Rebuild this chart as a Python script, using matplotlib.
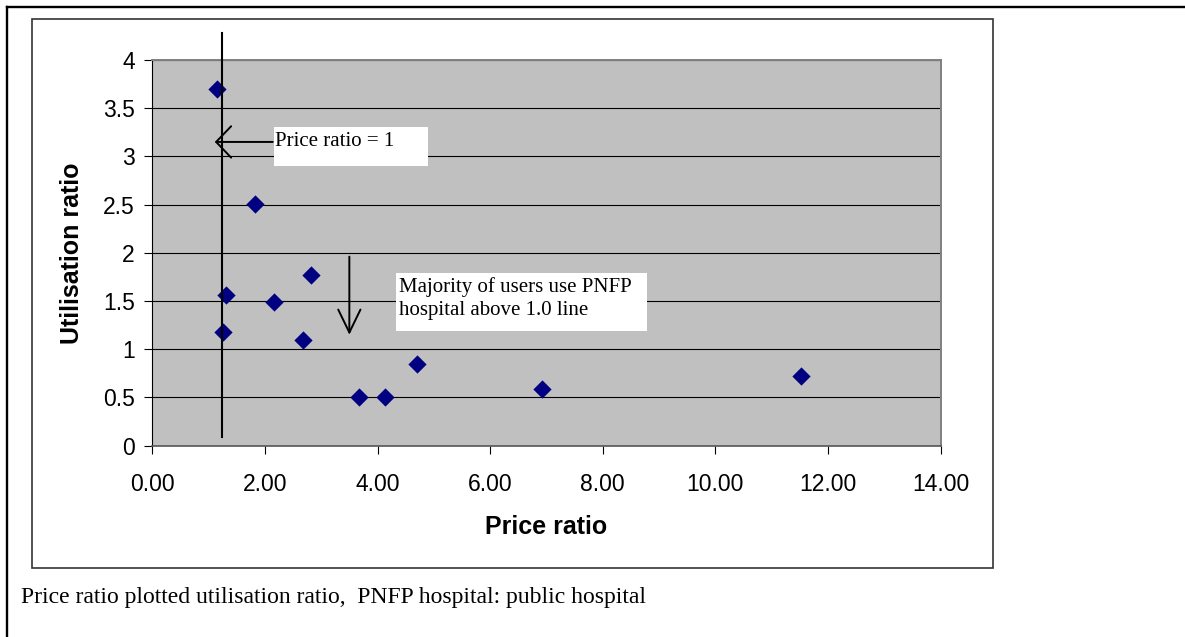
import matplotlib
matplotlib.use("Agg")
import matplotlib.pyplot as plt
from matplotlib.patches import Rectangle, FancyArrowPatch
from matplotlib.lines import Line2D

# data
price_ratio = [1.15, 1.82, 1.31, 1.26, 2.17, 2.68, 2.81, 3.67, 4.14, 4.70, 6.93, 11.53]
util_ratio = [3.70, 2.51, 1.56, 1.175, 1.49, 1.095, 1.77, 0.50, 0.50, 0.85, 0.59, 0.72]

x_ticks = [0, 2, 4, 6, 8, 10, 12, 14]
y_ticks = [0, 0.5, 1, 1.5, 2, 2.5, 3, 3.5, 4]

ref_x = 1.23            # hand-drawn "price ratio = 1" line
ref_y = (0.09, 4.28)
arrow1 = ((2.14, 3.15), (1.11, 3.15))
arrow2 = ((3.50, 1.96), (3.50, 1.15))

W, H = 1185, 637
serif = "Liberation Serif"
sans = "Liberation Sans"


def fx(x):
    return x / W


def fy(y):
    return 1 - y / H


fig = plt.figure(figsize=(W / 100, H / 100), dpi=100)

# outer table-cell border (top and left only)
fig.add_artist(Line2D([fx(7), 1], [fy(7), fy(7)], color="black", lw=1.7, transform=fig.transFigure))
fig.add_artist(Line2D([fx(7), fx(7)], [fy(7), 0], color="black", lw=1.7, transform=fig.transFigure))

# chart frame
fig.add_artist(Rectangle((fx(32), fy(568)), fx(993) - fx(32), fy(19) - fy(568),
                         transform=fig.transFigure, fill=False, ec="#333333", lw=1.2))

ax = fig.add_axes([fx(152.3), fy(445.6), fx(940.5) - fx(152.3), fy(60) - fy(445.6)])
ax.set_facecolor("#c0c0c0")

ax.scatter(price_ratio, util_ratio, marker="D", s=9.3 ** 2, color="#000080", lw=0, zorder=3)

ax.set_xlim(0, 14)
ax.set_ylim(0, 4)
ax.set_xticks(x_ticks)
ax.set_xticklabels([f"{v:.2f}" for v in x_ticks])
ax.set_yticks(y_ticks)
ax.set_yticklabels([f"{v:g}" for v in y_ticks])
ax.yaxis.grid(True, color="black", lw=0.8)
ax.set_axisbelow(True)

for lbl in ax.get_xticklabels() + ax.get_yticklabels():
    lbl.set_family(sans)
    lbl.set_fontsize(16.5)
ax.tick_params(axis="x", direction="out", length=5.5, width=0.8, pad=14)
ax.tick_params(axis="y", direction="out", length=5.5, width=0.8, pad=7)

ax.spines["left"].set_color("black")
ax.spines["left"].set_linewidth(0.8)
ax.spines["bottom"].set_color("#555555")
ax.spines["bottom"].set_linewidth(1.2)
for s in ("top", "right"):
    ax.spines[s].set_color("#808080")
    ax.spines[s].set_linewidth(1.4)

ax.set_xlabel("Price ratio", family=sans, fontsize=18, fontweight="bold", va="center")
ax.xaxis.set_label_coords(0.5, -0.211)
ax.set_ylabel("Utilisation ratio", family=sans, fontsize=18, fontweight="bold", va="center")
ax.yaxis.set_label_coords(-0.102, 0.5)

# reference line, drawn past the top of the plot area
ax.plot([ref_x, ref_x], ref_y, color="black", lw=1.5, clip_on=False, zorder=4)

# annotations with white boxes
fig.add_artist(Rectangle((fx(274), fy(165.7)), fx(428) - fx(274), fy(127.3) - fy(165.7),
                         transform=fig.transFigure, fc="white", ec="none", zorder=5))
fig.text(fx(275), fy(142), "Price ratio = 1", family=serif, fontsize=15, va="center", zorder=6)

fig.add_artist(Rectangle((fx(396), fy(330.7)), fx(647) - fx(396), fy(273.3) - fy(330.7),
                         transform=fig.transFigure, fc="white", ec="none", zorder=5))
fig.text(fx(399), fy(299), "Majority of users use PNFP\nhospital above 1.0 line",
         family=serif, fontsize=15, va="center", linespacing=1.28, zorder=6)

for (start, end), hl, hw in ((arrow1, 10.8, 11.3), (arrow2, 16.5, 8.0)):
    ax.add_patch(FancyArrowPatch(start, end, arrowstyle=f"->,head_length={hl},head_width={hw}",
                                 mutation_scale=1, shrinkA=0, shrinkB=0, color="black",
                                 lw=1.4, clip_on=False, zorder=6))

fig.text(fx(21), fy(597), "Price ratio plotted utilisation ratio,  PNFP hospital: public hospital",
         family=serif, fontsize=17, va="center")

fig.savefig("out.png", dpi=100)
